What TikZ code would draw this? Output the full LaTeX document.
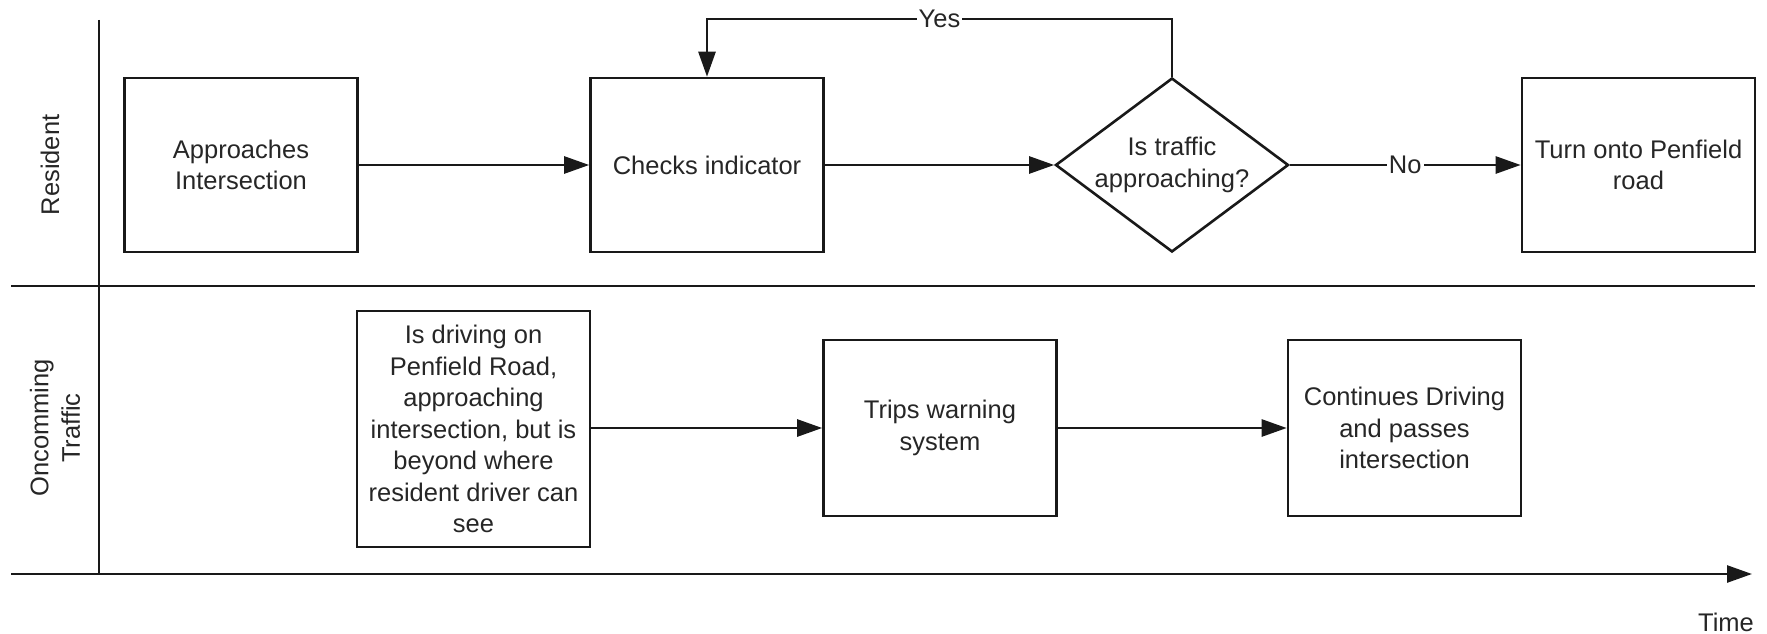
\documentclass[tikz,border=0pt]{standalone}
\usepackage{fontspec}
\setmainfont{Liberation Sans}
\usetikzlibrary{arrows.meta,shapes.geometric}
\begin{document}
\begin{tikzpicture}[x=1pt,y=-1pt,
  every node/.style={font=\fontsize{25.5}{31.5}\selectfont, text=black!85},
  line/.style={line width=2.6pt, draw=black!90},
  flow/.style={line, -{Triangle[length=25pt,width=17pt]}},
  stepbox/.style={draw=black!90, line width=2.6pt, rectangle, inner sep=0pt, align=center, minimum width=233pt},
  decision/.style={draw=black!90, line width=2.6pt, diamond, inner sep=0pt, minimum width=233pt, minimum height=174pt},
  lbl/.style={fill=white, inner sep=2pt},
  lane/.style={rotate=90, align=center}]
\useasboundingbox (0,0) rectangle (1767,634);
% lanes
\draw[line] (99,20) -- (99,574);
\draw[line] (11,286) -- (1755,286);
\coordinate (t0) at (11,574);
\coordinate (t1) at (1752,574);
\draw[flow] (t0) -- (t1);
\node (time) at (1726,622) {Time};
\node[lane] (resident) at (50,165) {Resident};
\node[lane] (oncoming) at (55,428) {Oncomming\\Traffic};
% row 1
\node[stepbox, minimum height=174pt] (b1) at (241,165) {Approaches\\Intersection};
\node[stepbox, minimum height=174pt] (b2) at (707,165) {Checks indicator};
\node[decision, label={[align=center]center:Is traffic\\approaching?}] (d) at (1172,165) {};
\node[stepbox, minimum height=174pt] (b4) at (1638.5,165) {Turn onto Penfield\\road};
% row 2
\node[stepbox, minimum height=236pt] (b5) at (473.5,429) {Is driving on\\Penfield Road,\\approaching\\intersection, but is\\beyond where\\resident driver can\\see};
\node[stepbox, minimum height=176pt] (b6) at (940,428) {Trips warning\\system};
\node[stepbox, minimum height=176pt] (b7) at (1404.5,428) {Continues Driving\\and passes\\intersection};
% connectors
\draw[flow] (b1.east) -- (b2.west);
\draw[flow] (b2.east) -- (d.west);
\draw[flow] (d.east) -- node[lbl] {No} (b4.west);
\draw[flow] (d.north) -- (1172,19) -- node[lbl] {Yes} (707,19) -- (b2.north);
\draw[flow] (b5.east |- b6.west) -- (b6.west);
\draw[flow] (b6.east) -- (b7.west);
\end{tikzpicture}
\end{document}
